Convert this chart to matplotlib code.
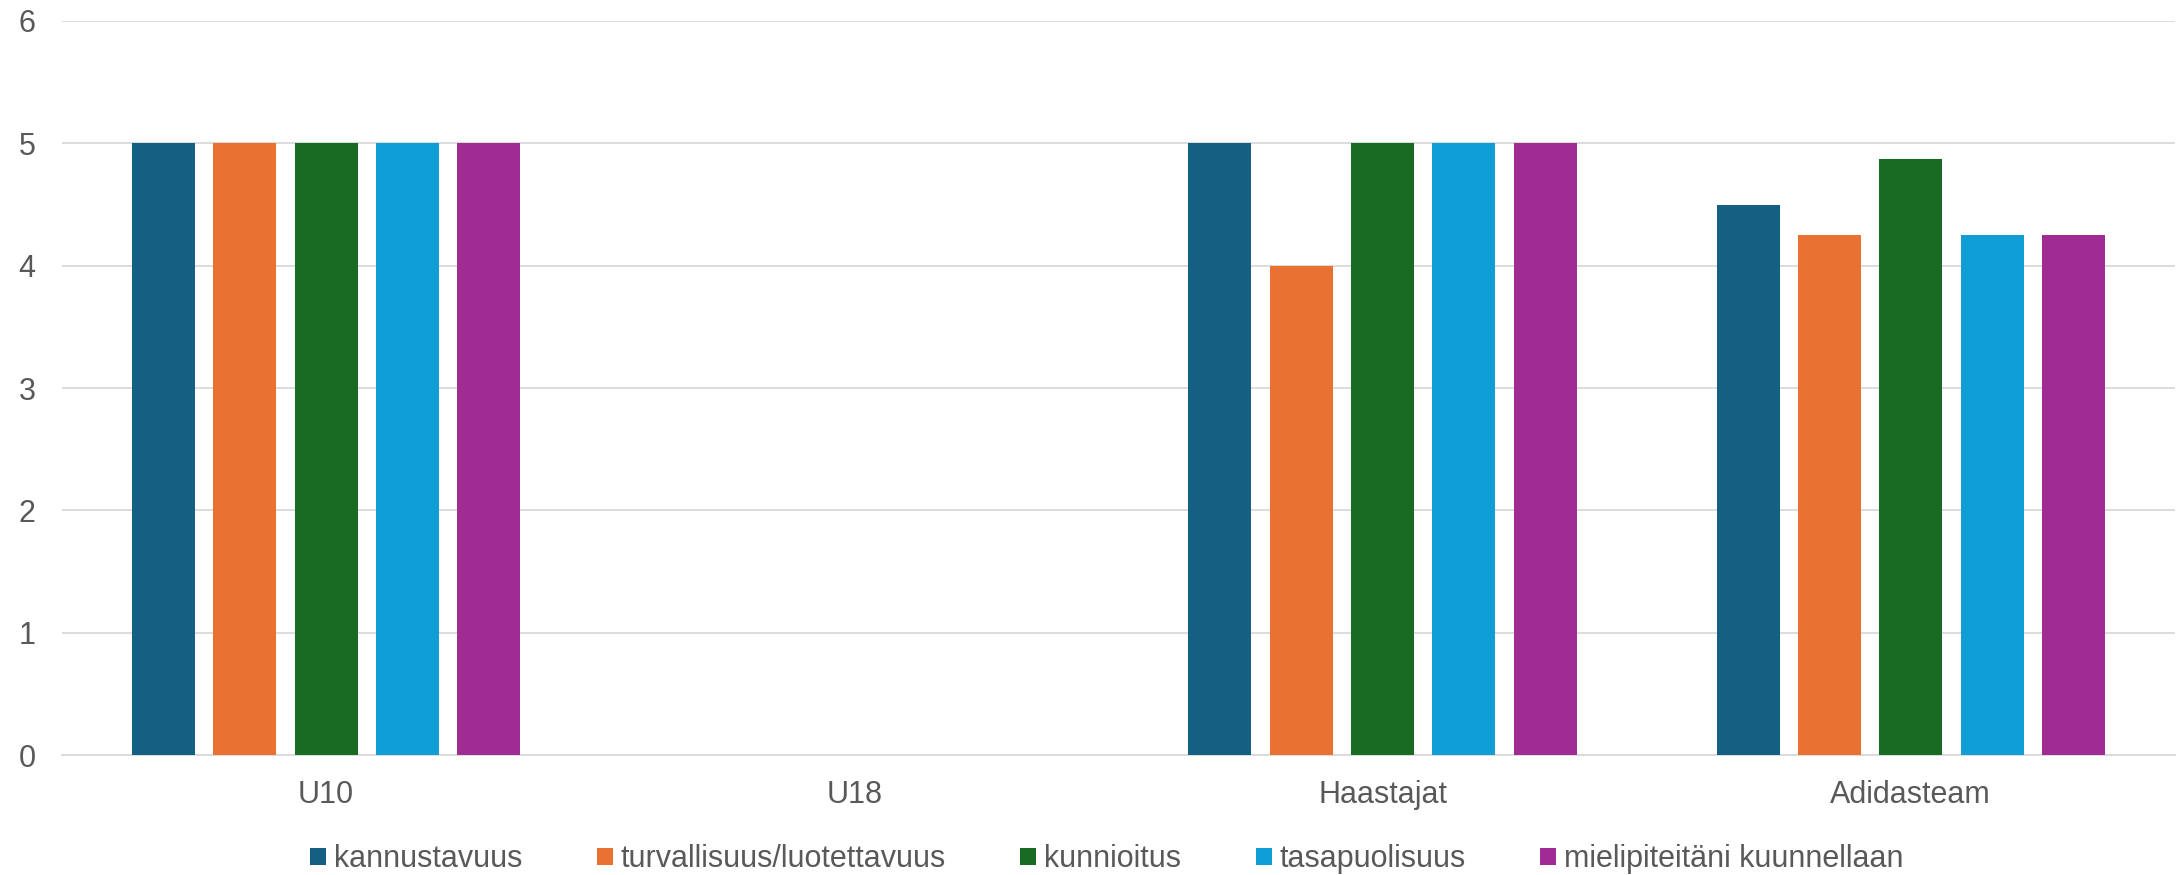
import numpy as np
import matplotlib
matplotlib.use("Agg")
import matplotlib.pyplot as plt

categories = ["U10", "U18", "Haastajat", "Adidasteam"]
series_names = ["kannustavuus", "turvallisuus/luotettavuus", "kunnioitus",
                "tasapuolisuus", "mielipiteitäni kuunnellaan"]
kannustavuus = [5, np.nan, 5, 4.5]
turvallisuus = [5, np.nan, 4, 4.25]
kunnioitus = [5, np.nan, 5, 4.875]
tasapuolisuus = [5, np.nan, 5, 4.25]
mielipiteet = [5, np.nan, 5, 4.25]
series_values = [kannustavuus, turvallisuus, kunnioitus, tasapuolisuus, mielipiteet]
colors = ["#156082", "#E97132", "#196B24", "#0F9ED5", "#A02B93"]
y_ticks = [0, 1, 2, 3, 4, 5, 6]

plt.rcParams["font.family"] = ["Liberation Sans", "DejaVu Sans"]
text_color = "#595959"
fs = 22

fig = plt.figure(figsize=(21.83, 8.75), dpi=100)
ax = fig.add_axes([0.0284, 0.137, 0.9679, 0.839])

x = np.arange(len(categories))
pitch = 0.154
width = 0.119
for i, (name, vals, c) in enumerate(zip(series_names, series_values, colors)):
    ax.bar(x + (i - 2) * pitch, vals, width=width, color=c, label=name, zorder=3)

ax.set_xlim(-0.5, len(categories) - 0.5)
ax.set_ylim(0, 6)
ax.set_yticks(y_ticks)
ax.set_xticks(x)
ax.set_xticklabels(categories)
ax.yaxis.grid(True, color="#D9D9D9", linewidth=1.3, zorder=0)
ax.set_axisbelow(True)
for s in ["top", "right", "left"]:
    ax.spines[s].set_visible(False)
ax.spines["bottom"].set_color("#D9D9D9")
ax.spines["bottom"].set_linewidth(1.3)
ax.tick_params(axis="y", length=0, pad=19, labelsize=fs, labelcolor=text_color)
ax.tick_params(axis="x", length=0, pad=18, labelsize=fs, labelcolor=text_color)

leg = fig.legend(loc="center", bbox_to_anchor=(0.507, 0.018), ncol=5, frameon=False,
                 fontsize=fs, handlelength=0.52, handleheight=0.52, handletextpad=0.25,
                 columnspacing=2.45)
for t in leg.get_texts():
    t.set_color(text_color)

fig.savefig("out.png", dpi=100)
